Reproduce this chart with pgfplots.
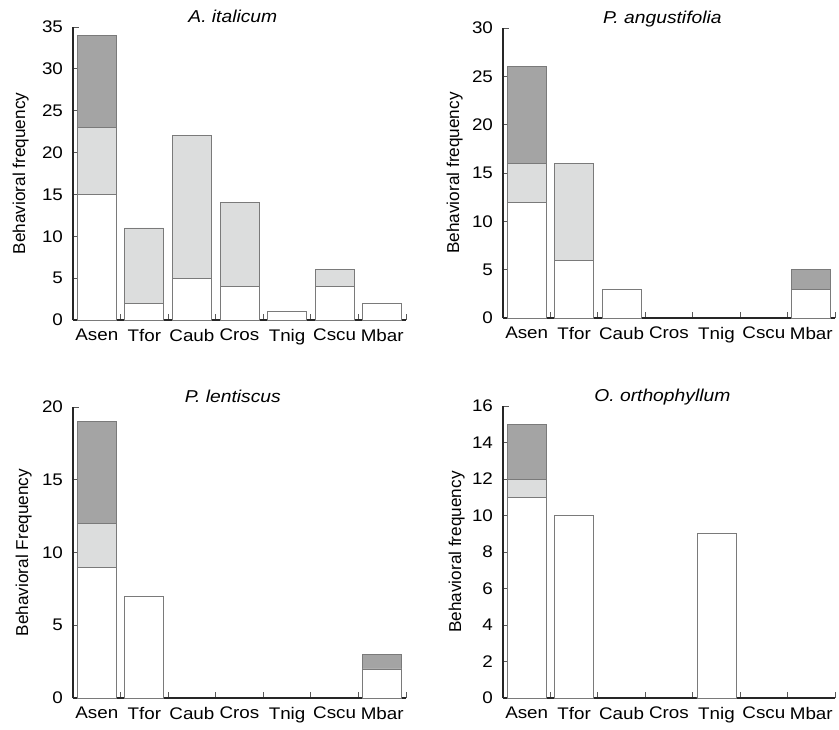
\documentclass[border=0pt]{standalone}
\usepackage{pgfplots}
\pgfplotsset{compat=1.18}
\usepackage{fontspec}
\setmainfont[FakeStretch=1.12]{Liberation Sans}
\newfontfamily\ylf{Liberation Sans}
\definecolor{dk}{HTML}{A4A4A4}
\definecolor{lt}{HTML}{DCDDDD}
\definecolor{ed}{HTML}{7A7A7A}
\pgfplotsset{
 every axis title shift=0pt,
 panel/.style={
  scale only axis,
  ybar, bar width=19.5pt, bar shift=0pt,
  xmin=-0.5, xmax=6.5, ymin=0,
  axis lines*=left,
  axis line style={line width=0.8pt, black!85},
  xtick={-0.5,0.5,...,6.5},
  x tick label as interval,
  xticklabels={Asen,Tfor,Caub,Cros,Tnig,Cscu,Mbar},
  tick align=inside,
  major tick length=3pt,
  tick style={black!65, line width=0.5pt},
  ticklabel style={font=\fontsize{8.4}{10}\selectfont},
  xticklabel style={yshift=-1pt},
  yticklabel style={xshift=-1.5pt},
  /pgf/number format/assume math mode=true,
  title style={font=\fontsize{8.6}{10}\selectfont\itshape, anchor=base, at={(axis description cs:0.48,1)}, yshift=2.5pt},
  ylabel style={font=\fontsize{8.6}{10}\selectfont\ylf},
  every axis plot/.append style={draw=ed, line width=0.4pt},
  clip=false,
 }
}
\begin{document}
\begin{tikzpicture}
\useasboundingbox (0,0) rectangle (419.5pt,364.5pt);
% A. italicum  (cumulative tops: white, white+light, total)
\begin{axis}[panel, at={(36.5pt,204.5pt)}, anchor=south west, width=166.5pt, height=146.5pt,
  ymax=35, ytick={0,5,...,35}, title={A. italicum},
  ylabel={Behavioral frequency},
  ylabel style={at={(axis description cs:-0.132,0.5)}, anchor=south, inner sep=0pt}]
\addplot[fill=dk] coordinates {(0,34)};
\addplot[fill=lt] coordinates {(0,23) (1,11) (2,22) (3,14) (5,6)};
\addplot[fill=white] coordinates {(0,15) (1,2) (2,5) (3,4) (4,1) (5,4) (6,2)};
\end{axis}
% P. angustifolia
\begin{axis}[panel, at={(251.5pt,205.5pt)}, anchor=south west, width=166pt, height=145pt,
  ymax=30, ytick={0,5,...,30}, title={P. angustifolia},
  ylabel={Behavioral frequency},
  ylabel style={at={(axis description cs:-0.120,0.5)}, anchor=south, inner sep=0pt}]
\addplot[fill=dk] coordinates {(0,26) (6,5)};
\addplot[fill=lt] coordinates {(0,16) (1,16)};
\addplot[fill=white] coordinates {(0,12) (1,6) (2,3) (6,3)};
\end{axis}
% P. lentiscus
\begin{axis}[panel, at={(36.5pt,15.5pt)}, anchor=south west, width=166.5pt, height=145.5pt,
  ymax=20, ytick={0,5,...,20}, title={P. lentiscus},
  ylabel={Behavioral Frequency},
  ylabel style={at={(axis description cs:-0.123,0.5)}, anchor=south, inner sep=0pt}]
\addplot[fill=dk] coordinates {(0,19) (6,3)};
\addplot[fill=lt] coordinates {(0,12)};
\addplot[fill=white] coordinates {(0,9) (1,7) (6,2)};
\end{axis}
% O. orthophyllum
\begin{axis}[panel, at={(251.5pt,15.5pt)}, anchor=south west, width=166pt, height=146pt,
  ymax=16, ytick={0,2,...,16}, title={O. orthophyllum},
  ylabel={Behavioral frequency},
  ylabel style={at={(axis description cs:-0.114,0.5)}, anchor=south, inner sep=0pt}]
\addplot[fill=dk] coordinates {(0,15)};
\addplot[fill=lt] coordinates {(0,12)};
\addplot[fill=white] coordinates {(0,11) (1,10) (4,9)};
\end{axis}
\end{tikzpicture}
\end{document}
